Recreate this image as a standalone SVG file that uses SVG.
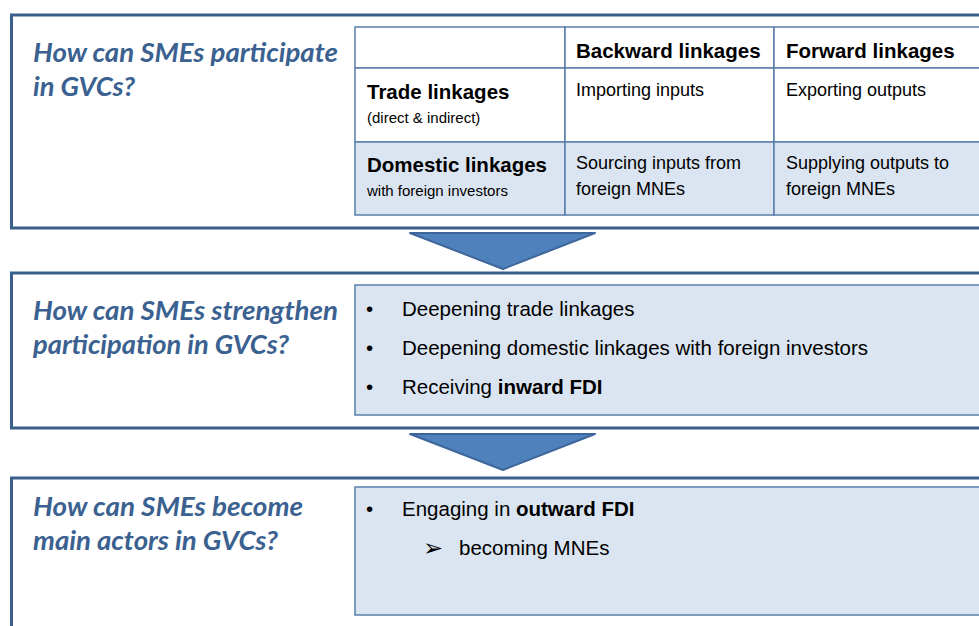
<svg xmlns="http://www.w3.org/2000/svg" width="979" height="626" viewBox="0 0 979 626">
<style>
.outer{fill:#ffffff;stroke:#3b5f8d;stroke-width:3}
.inner{fill:#dbe5f1;stroke:#5b7eab;stroke-width:1.5}
.cell{fill:#ffffff;stroke:#5b7eab;stroke-width:1.5}
.cellb{fill:#dbe5f1;stroke:#5b7eab;stroke-width:1.5}
.q{font-family:Lato,"Open Sans",sans-serif;font-weight:bold;font-style:italic;font-size:26px;fill:#3a6190}
.hb{font-family:"Liberation Sans",Arial,sans-serif;font-weight:bold;font-size:20.5px;fill:#000}
.t{font-family:"Liberation Sans",Arial,sans-serif;font-size:18px;fill:#000}
.s{font-family:"Liberation Sans",Arial,sans-serif;font-size:15px;fill:#000}
.b{font-family:"Liberation Sans",Arial,sans-serif;font-size:20.5px;fill:#000}
.arrow{fill:#4f81bd;stroke:#3e669a;stroke-width:2;stroke-linejoin:round}
</style>
<rect width="979" height="626" fill="#ffffff"/>

<g id="box1">
<rect class="outer" x="11.5" y="15" width="990" height="213"/>
<text class="q" x="33" y="62" textLength="305" lengthAdjust="spacingAndGlyphs">How can SMEs participate</text>
<text class="q" x="33" y="96" textLength="102" lengthAdjust="spacingAndGlyphs">in GVCs?</text>
<g id="table">
<rect class="cell" x="355" y="27" width="210" height="41"/>
<rect class="cell" x="565" y="27" width="209" height="41"/>
<rect class="cell" x="774" y="27" width="220" height="41"/>
<rect class="cell" x="355" y="68" width="210" height="74"/>
<rect class="cell" x="565" y="68" width="209" height="74"/>
<rect class="cell" x="774" y="68" width="220" height="74"/>
<rect class="cellb" x="355" y="142" width="210" height="73"/>
<rect class="cellb" x="565" y="142" width="209" height="73"/>
<rect class="cellb" x="774" y="142" width="220" height="73"/>
<text class="hb" x="576" y="58">Backward linkages</text>
<text class="hb" x="786" y="58">Forward linkages</text>
<text class="hb" x="367" y="99">Trade linkages</text>
<text class="s" x="367" y="123">(direct &amp; indirect)</text>
<text class="t" x="576" y="96">Importing inputs</text>
<text class="t" x="786" y="96">Exporting outputs</text>
<text class="hb" x="367" y="172">Domestic linkages</text>
<text class="s" x="367" y="196">with foreign investors</text>
<text class="t" x="576" y="169">Sourcing inputs from</text>
<text class="t" x="576" y="195">foreign MNEs</text>
<text class="t" x="786" y="169">Supplying outputs to</text>
<text class="t" x="786" y="195">foreign MNEs</text>
</g>
</g>

<g id="connectors">
<polygon class="arrow" points="410,233 595,233 503,269"/>
<polygon class="arrow" points="410,434 595,434 503,470"/>
</g>

<g id="box2">
<rect class="outer" x="11.5" y="273" width="990" height="155"/>
<text class="q" x="33" y="320" textLength="305" lengthAdjust="spacingAndGlyphs">How can SMEs strengthen</text>
<text class="q" x="33" y="354" textLength="256" lengthAdjust="spacingAndGlyphs">participation in GVCs?</text>
<rect class="inner" x="355" y="285" width="640" height="130"/>
<text class="b" x="366" y="316">•</text>
<text class="b" x="402" y="316">Deepening trade linkages</text>
<text class="b" x="366" y="355">•</text>
<text class="b" x="402" y="355">Deepening domestic linkages with foreign investors</text>
<text class="b" x="366" y="394">•</text>
<text class="b" x="402" y="394">Receiving <tspan font-weight="bold">inward FDI</tspan></text>
</g>

<g id="box3">
<rect class="outer" x="11.5" y="478" width="990" height="170"/>
<text class="q" x="33" y="516" textLength="270" lengthAdjust="spacingAndGlyphs">How can SMEs become</text>
<text class="q" x="33" y="550" textLength="245" lengthAdjust="spacingAndGlyphs">main actors in GVCs?</text>
<rect class="inner" x="355" y="487" width="640" height="128"/>
<text class="b" x="366" y="516">•</text>
<text class="b" x="402" y="516">Engaging in <tspan font-weight="bold">outward FDI</tspan></text>
<text x="423" y="556" style="font-family:'DejaVu Sans',sans-serif;font-size:24px;fill:#000">➢</text>
<text class="b" x="459" y="555">becoming MNEs</text>
</g>
</svg>
